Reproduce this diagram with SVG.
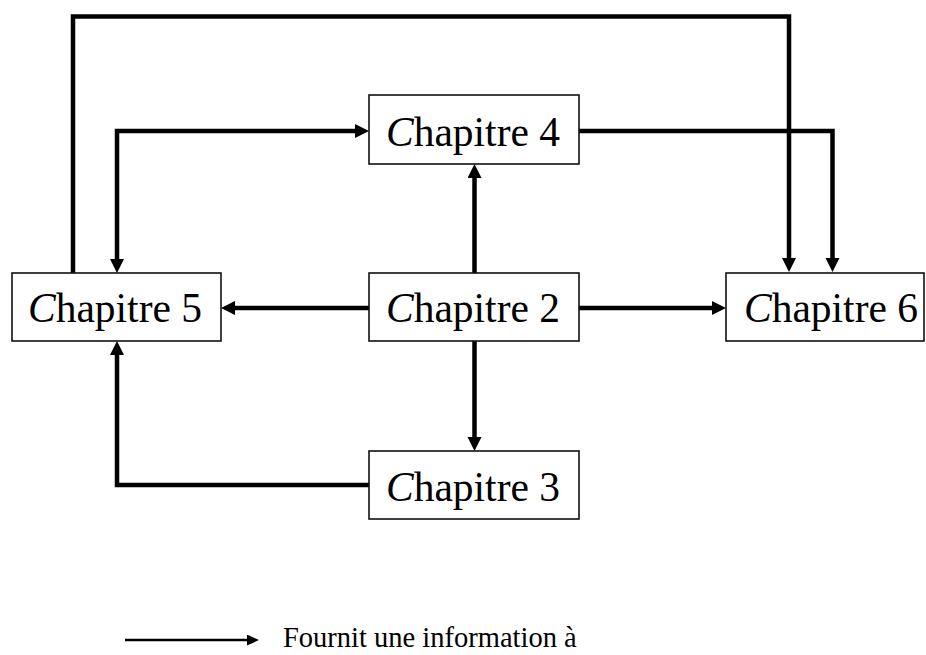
<svg xmlns="http://www.w3.org/2000/svg" width="926" height="655" viewBox="0 0 926 655">
<style>
.box{fill:#fff;stroke:#111;stroke-width:1.6}
.lbl{font-family:"Liberation Serif","Times New Roman",serif;font-size:41.5px;fill:#000;text-anchor:middle}
.c{font-style:italic}
.edge{fill:none;stroke:#000;stroke-width:4.5;stroke-linejoin:miter}
.leg{fill:none;stroke:#000;stroke-width:2.5}
.legtxt{font-family:"Liberation Serif","Times New Roman",serif;font-size:28.5px;fill:#000}
</style>
<defs>
<marker id="ah" markerUnits="userSpaceOnUse" markerWidth="15" markerHeight="15" refX="8" refY="7" orient="auto-start-reverse" viewBox="0 0 15 15">
<path d="M0,0 L14,7 L0,14 Z" fill="#000"/>
</marker>
<marker id="ahs" markerUnits="userSpaceOnUse" markerWidth="13" markerHeight="12" refX="7" refY="5.5" orient="auto" viewBox="0 0 13 12">
<path d="M0,0 L12,5.5 L0,11 Z" fill="#000"/>
</marker>
</defs>
<rect width="926" height="655" fill="#fff"/>
<g id="connectors">
<path class="edge" d="M73,273 V16.5 H789 V266" marker-end="url(#ah)"/>
<path class="edge" d="M579,131 H832.5 V266" marker-end="url(#ah)"/>
<path class="edge" d="M117,267 V131 H363" marker-start="url(#ah)" marker-end="url(#ah)"/>
<path class="edge" d="M474.5,273 V170" marker-end="url(#ah)"/>
<path class="edge" d="M369,308 H227" marker-end="url(#ah)"/>
<path class="edge" d="M579,308 H720" marker-end="url(#ah)"/>
<path class="edge" d="M474.5,341 V445" marker-end="url(#ah)"/>
<path class="edge" d="M369,485 H117 V347" marker-end="url(#ah)"/>
</g>
<g id="chapitre4">
<rect class="box" x="369" y="95" width="210" height="69"/>
<text class="lbl" x="473" y="146"><tspan class="c">C</tspan>hapitre 4</text>
</g>
<g id="chapitre5">
<rect class="box" x="12" y="273" width="209" height="68"/>
<text class="lbl" x="115" y="322"><tspan class="c">C</tspan>hapitre 5</text>
</g>
<g id="chapitre2">
<rect class="box" x="369" y="273" width="210" height="68"/>
<text class="lbl" x="473" y="322"><tspan class="c">C</tspan>hapitre 2</text>
</g>
<g id="chapitre6">
<rect class="box" x="726" y="273" width="198" height="68"/>
<text class="lbl" x="831" y="322"><tspan class="c">C</tspan>hapitre 6</text>
</g>
<g id="chapitre3">
<rect class="box" x="369" y="451" width="210" height="68"/>
<text class="lbl" x="473" y="501"><tspan class="c">C</tspan>hapitre 3</text>
</g>
<g id="legend">
<path class="leg" d="M125,640 H254" marker-end="url(#ahs)"/>
<text class="legtxt" x="283" y="647">Fournit une information à</text>
</g>
</svg>
